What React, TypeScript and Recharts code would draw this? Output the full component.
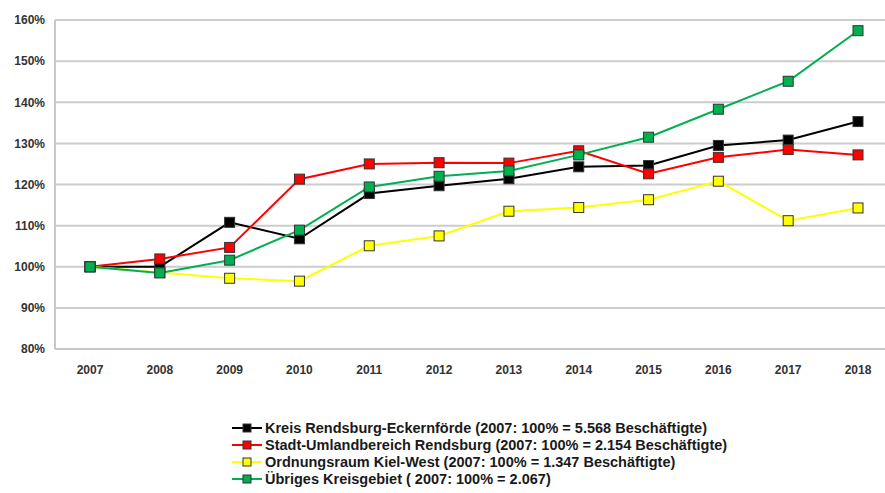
import { LineChart, Line, XAxis, YAxis, CartesianGrid, Legend } from "recharts";

// Beschäftigte, indexiert auf 2007 = 100%
const years = ["2007", "2008", "2009", "2010", "2011", "2012", "2013", "2014", "2015", "2016", "2017", "2018"];
const kreis = [100, 100, 110.8, 106.8, 117.8, 119.7, 121.4, 124.3, 124.6, 129.5, 130.8, 135.3];
const stadtUmland = [100, 101.9, 104.7, 121.3, 125.0, 125.3, 125.2, 128.2, 122.6, 126.6, 128.5, 127.2];
const kielWest = [100, 98.6, 97.2, 96.5, 105.1, 107.5, 113.5, 114.4, 116.3, 120.8, 111.2, 114.3];
const uebrige = [100, 98.5, 101.6, 108.9, 119.4, 122.0, 123.3, 127.2, 131.5, 138.3, 145.1, 157.4];
const yTicks = [80, 90, 100, 110, 120, 130, 140, 150, 160];

const series = [
  { key: "kreis", values: kreis, color: "#000000", name: "Kreis Rendsburg-Eckernförde (2007: 100% = 5.568 Beschäftigte)" },
  { key: "stadt", values: stadtUmland, color: "#ff0000", name: "Stadt-Umlandbereich Rendsburg (2007: 100% = 2.154 Beschäftigte)" },
  { key: "kiel", values: kielWest, color: "#ffff00", name: "Ordnungsraum Kiel-West (2007: 100% = 1.347 Beschäftigte)" },
  { key: "uebrig", values: uebrige, color: "#00b050", name: "Übriges Kreisgebiet ( 2007: 100% = 2.067)" },
];

const chartData = years.map((y, i) => {
  const row: Record<string, string | number> = { year: y };
  series.forEach((s) => {
    row[s.key] = s.values[i];
  });
  return row;
});

const FONT = "'Liberation Sans', Arial, sans-serif";

function squareDot(color: string) {
  return (props: any) => {
    const { cx, cy, index } = props;
    return (
      <rect key={`d-${index}`} x={cx - 5} y={cy - 5} width={10} height={10} fill={color} stroke="#333" strokeWidth={1} />
    );
  };
}

function LegendBox() {
  return (
    <div style={{ fontFamily: FONT, fontSize: 14.5, fontWeight: "bold", color: "#1a1a1a" }}>
      {series.map((s) => (
        <div key={s.key} style={{ display: "flex", alignItems: "center", height: 17.2 }}>
          <svg width={32} height={12} style={{ marginRight: 1 }}>
            <line x1={0} y1={6} x2={30} y2={6} stroke={s.color} strokeWidth={2} />
            <rect x={11} y={2} width={8} height={8} fill={s.color} stroke="#333" strokeWidth={1} />
          </svg>
          <span style={{ whiteSpace: "nowrap" }}>{s.name}</span>
        </div>
      ))}
    </div>
  );
}

export default function App() {
  return (
    <div style={{ position: "absolute", left: 0, top: 0, width: 885, height: 493, overflow: "hidden", background: "#fff" }}>
      <LineChart width={900} height={493} data={chartData} margin={{ top: 20, right: 7, left: 0, bottom: 114 }}>
        <CartesianGrid vertical={false} stroke="#cccccc" strokeWidth={2} />
        <XAxis
          dataKey="year"
          padding={{ left: 35, right: 35 }}
          height={30}
          stroke="#c8c8c8"
          strokeWidth={2}
          tickLine={false}
          tickMargin={10}
          tick={{ fill: "#333", fontSize: 12, fontWeight: "bold", fontFamily: FONT }}
        />
        <YAxis
          domain={[80, 160]}
          ticks={yTicks}
          width={55}
          stroke="#c8c8c8"
          strokeWidth={2}
          tickLine={false}
          tickMargin={4}
          tickFormatter={(v) => `${v}%`}
          tick={{ fill: "#333", fontSize: 12, fontWeight: "bold", fontFamily: FONT }}
        />
        <Legend
          layout="vertical"
          align="center"
          verticalAlign="middle"
          content={() => <LegendBox />}
          wrapperStyle={{ position: "absolute", left: 232, top: 419, width: 640 }}
        />
        {series.map((s) => (
          <Line
            key={s.key}
            dataKey={s.key}
            name={s.name}
            stroke={s.color}
            strokeWidth={2}
            dot={squareDot(s.color)}
            activeDot={false}
            isAnimationActive={false}
          />
        ))}
      </LineChart>
    </div>
  );
}
